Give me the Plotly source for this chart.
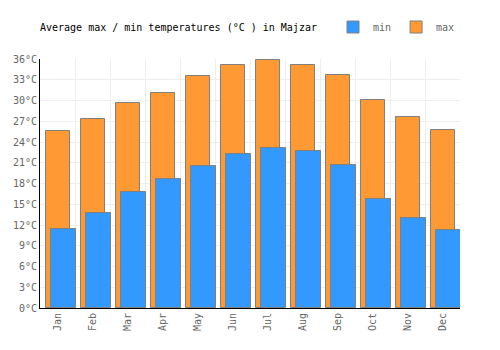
import plotly.graph_objects as go

months = ["Jan", "Feb", "Mar", "Apr", "May", "Jun", "Jul", "Aug", "Sep", "Oct", "Nov", "Dec"]
t_max = [25.6, 27.3, 29.7, 31.1, 33.5, 35.2, 35.8, 35.1, 33.7, 30.1, 27.6, 25.8]
t_min = [11.4, 13.8, 16.8, 18.6, 20.6, 22.2, 23.1, 22.7, 20.7, 15.8, 13.0, 11.3]
y_ticks = list(range(0, 37, 3))
y_labels = [f"{v}°C" for v in y_ticks]

FONT = "DejaVu Sans Mono"

fig = go.Figure()
fig.add_trace(go.Bar(
    x=months, y=t_max, name="max",
    marker=dict(color="#FF9933", line=dict(color="#808080", width=1)),
    offset=-0.33, width=0.68,
))
fig.add_trace(go.Bar(
    x=months, y=t_min, name="min",
    marker=dict(color="#3399FF", line=dict(color="#808080", width=1)),
    offset=-0.19, width=0.71,
))

fig.update_layout(
    width=500, height=350,
    margin=dict(l=40, r=40, t=53, b=42),
    barmode="overlay",
    plot_bgcolor="white", paper_bgcolor="white",
    font=dict(family=FONT, size=10, color="#666666"),
    title=dict(text="Average max / min temperatures (°C ) in Majzar",
               x=40/500, xanchor="left", y=1-27/350, yanchor="middle",
               font=dict(family=FONT, size=10, color="#000000")),
    legend=dict(orientation="h", x=1.0, xanchor="right", y=1-27/350, yref="container",
                yanchor="middle", traceorder="reversed",
                font=dict(family=FONT, size=10, color="#666666"),
                itemwidth=30, bgcolor="rgba(0,0,0,0)"),
    showlegend=True,
    bargap=0,
)
fig.update_xaxes(
    type="category", range=[-0.5, 11.5], tickson="boundaries",
    showgrid=True, gridcolor="#eeeeee", gridwidth=1,
    showline=True, linecolor="#000000", linewidth=1,
    ticks="", tickangle=-90, tickfont=dict(family=FONT, size=10, color="#666666"),
)
fig.update_yaxes(
    range=[0, 36], tickvals=y_ticks, ticktext=y_labels,
    showgrid=True, gridcolor="#eeeeee", gridwidth=1,
    showline=True, linecolor="#000000", linewidth=1,
    ticks="", zeroline=False,
    tickfont=dict(family=FONT, size=10, color="#666666"),
)

fig.write_html("out.html")
